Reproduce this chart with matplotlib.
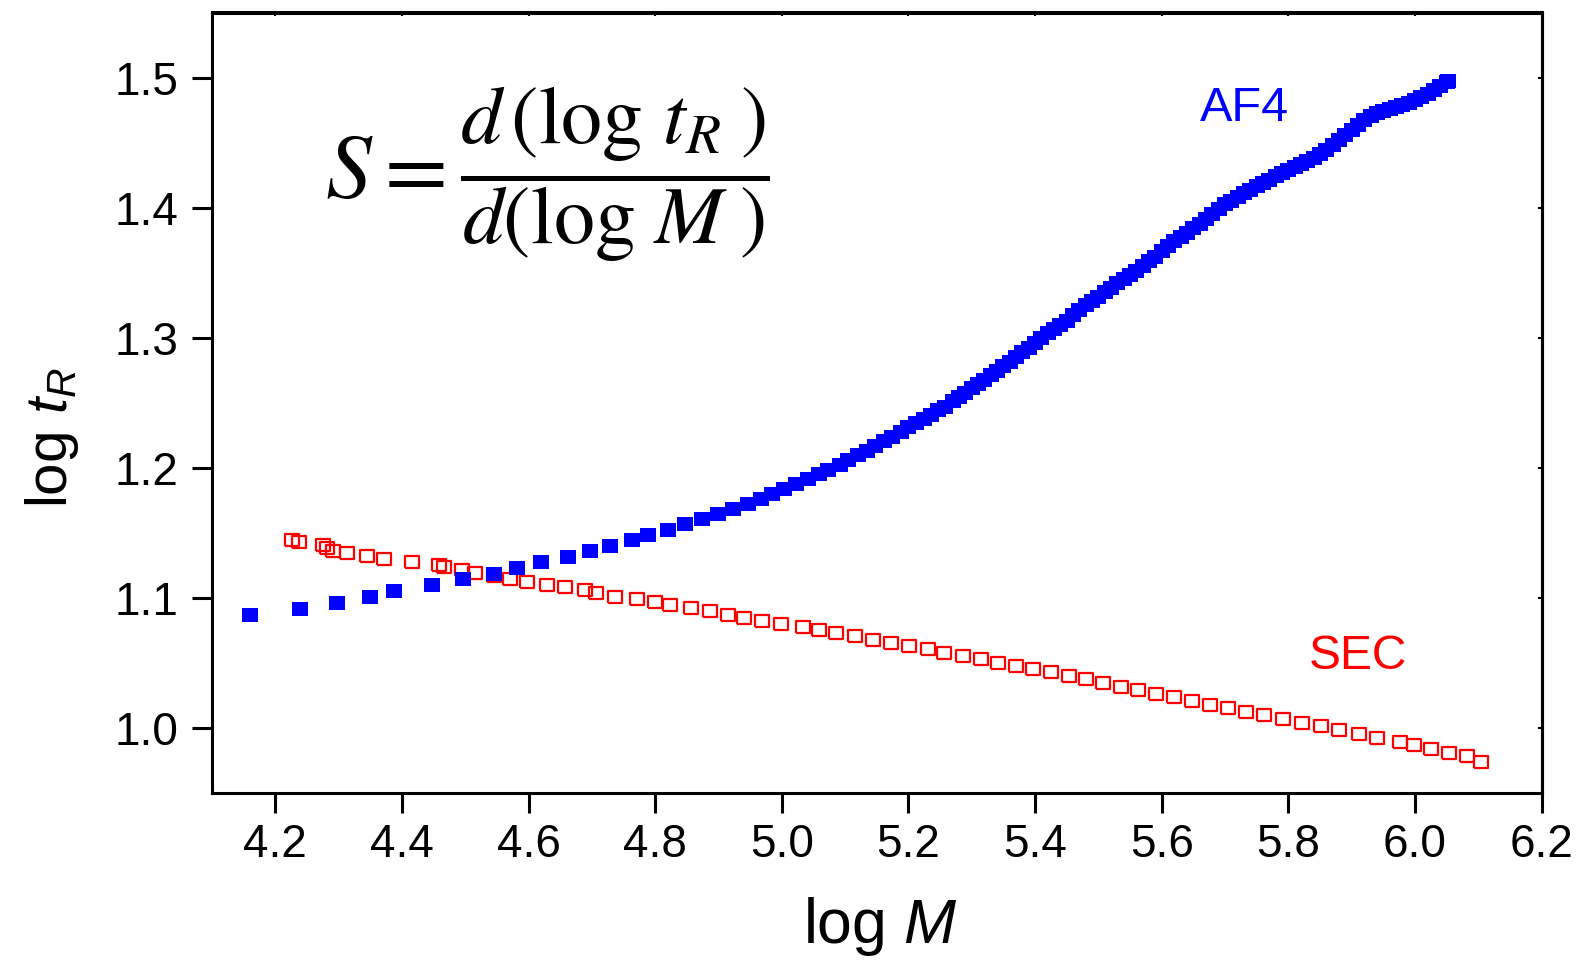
import matplotlib
matplotlib.use("Agg")
import matplotlib.pyplot as plt

# ---------------- data ----------------
af4_x = [4.1605, 4.2390, 4.2968, 4.3496, 4.3869, 4.4469, 4.4959, 4.5449, 4.5818, 4.6197,
         4.6629, 4.6976, 4.7292, 4.7635, 4.7888, 4.8209, 4.8477,
         4.8746, 4.8987, 4.9231, 4.9472, 4.9673, 4.9851, 5.0041, 5.0226, 5.0420, 5.0589,
         5.0736, 5.0915, 5.1052, 5.1199, 5.1348, 5.1479, 5.1610, 5.1743, 5.1878, 5.2000,
         5.2115, 5.2242, 5.2359, 5.2463, 5.2580,
         5.27, 5.28, 5.29, 5.30, 5.31, 5.32, 5.33, 5.34, 5.35, 5.36, 5.37, 5.38, 5.39,
         5.40, 5.41, 5.42, 5.43, 5.44, 5.45, 5.46, 5.47, 5.48, 5.49, 5.50, 5.51, 5.52,
         5.53, 5.54, 5.55, 5.56, 5.57, 5.58, 5.59, 5.60, 5.61, 5.62, 5.63, 5.64, 5.65,
         5.66, 5.67, 5.68, 5.69, 5.70, 5.71, 5.72, 5.73, 5.74, 5.75, 5.76, 5.77, 5.78,
         5.79, 5.80, 5.81, 5.82, 5.83, 5.84, 5.85, 5.86, 5.87, 5.88, 5.89, 5.90, 5.91,
         5.92, 5.93, 5.94, 5.95, 5.96, 5.97, 5.98, 5.99, 6.00, 6.01, 6.02, 6.03, 6.04,
         6.05, 6.052]
af4_y = [1.0867, 1.0913, 1.0965, 1.1008, 1.1051, 1.1098, 1.1144, 1.1188, 1.1231, 1.1274,
         1.1318, 1.1359, 1.1403, 1.1447, 1.1487, 1.1526, 1.1566,
         1.1610, 1.1646, 1.1687, 1.1726, 1.1764, 1.1802, 1.1841, 1.1879, 1.1918, 1.1956,
         1.1987, 1.2025, 1.2064, 1.2097, 1.2133, 1.2171, 1.2204, 1.2241, 1.2277, 1.2312,
         1.2343, 1.2379, 1.2410, 1.2443, 1.2471,
         1.2511, 1.2544, 1.2578, 1.2611, 1.2645, 1.2678, 1.2711, 1.2745, 1.2780, 1.2816,
         1.2852, 1.2888, 1.2925, 1.2962, 1.2999, 1.3037, 1.3071, 1.3102, 1.3133, 1.3174,
         1.3217, 1.3251, 1.3283, 1.3316, 1.3350, 1.3384, 1.3418, 1.3451, 1.3483, 1.3515,
         1.3550, 1.3587, 1.3623, 1.3664, 1.3707, 1.3743, 1.3774, 1.3805, 1.3841, 1.3878,
         1.3915, 1.3951, 1.3988, 1.4025, 1.4055, 1.4083, 1.4110, 1.4137, 1.4164, 1.4190,
         1.4216, 1.4240, 1.4263, 1.4286, 1.4309, 1.4333, 1.4358, 1.4384, 1.4414, 1.4445,
         1.4480, 1.4519, 1.4558, 1.4597, 1.4637, 1.4673, 1.4702, 1.4724, 1.4743, 1.4760,
         1.4775, 1.4790, 1.4805, 1.4826, 1.4849, 1.4872, 1.4901, 1.4935, 1.4969, 1.4975]

sec_x = [4.227, 4.238, 4.276, 4.282, 4.291, 4.313, 4.345, 4.372, 4.416, 4.458,
         4.467, 4.495, 4.516, 4.545, 4.570, 4.597, 4.629, 4.658, 4.689, 4.707,
         4.736, 4.771, 4.799, 4.824, 4.857, 4.886, 4.915, 4.941, 4.969, 4.999,
         5.033, 5.058, 5.086, 5.115, 5.144, 5.173, 5.201, 5.231, 5.257, 5.287,
         5.314, 5.342, 5.370, 5.397, 5.425, 5.453, 5.480, 5.507, 5.536, 5.563,
         5.591, 5.620, 5.648, 5.676, 5.705, 5.734, 5.762, 5.791, 5.822, 5.851,
         5.880, 5.911, 5.940, 5.977, 5.999, 6.026, 6.054, 6.083, 6.105]
sec_y = [1.1449, 1.1428, 1.1410, 1.1385, 1.1364, 1.1347, 1.1321, 1.1301, 1.1280, 1.1257,
         1.1236, 1.1216, 1.1195, 1.1170, 1.1147, 1.1126, 1.1101, 1.1082, 1.1059, 1.1036,
         1.1011, 1.0990, 1.0967, 1.0944, 1.0921, 1.0898, 1.0872, 1.0849, 1.0826, 1.0801,
         1.0780, 1.0755, 1.0729, 1.0706, 1.0680, 1.0655, 1.0632, 1.0606, 1.0578, 1.0555,
         1.0532, 1.0503, 1.0478, 1.0455, 1.0429, 1.0404, 1.0375, 1.0347, 1.0319, 1.0294,
         1.0265, 1.0240, 1.0211, 1.0180, 1.0155, 1.0127, 1.0098, 1.0071, 1.0040, 1.0014,
         0.9983, 0.9955, 0.9927, 0.9896, 0.9868, 0.9840, 0.9809, 0.9783, 0.9742]

x_ticks = [4.2, 4.4, 4.6, 4.8, 5.0, 5.2, 5.4, 5.6, 5.8, 6.0, 6.2]
x_tick_labels = ["4.2", "4.4", "4.6", "4.8", "5.0", "5.2", "5.4", "5.6", "5.8", "6.0", "6.2"]
y_ticks = [1.0, 1.1, 1.2, 1.3, 1.4, 1.5]
y_tick_labels = ["1.0", "1.1", "1.2", "1.3", "1.4", "1.5"]

# ---------------- style ----------------
W, H = 1582, 960
plt.rcParams['font.family'] = ['Liberation Sans', 'DejaVu Sans']
plt.rcParams['mathtext.fontset'] = 'custom'
plt.rcParams['mathtext.rm'] = 'Liberation Sans'
plt.rcParams['mathtext.it'] = 'Liberation Sans:italic'

fig = plt.figure(figsize=(W / 100, H / 100), dpi=100)
ax = fig.add_axes([212 / W, 1 - 793.3 / H, 1329.5 / W, 780.8 / H])

rect_b = [(-1, -0.86), (1, -0.86), (1, 0.86), (-1, 0.86), (-1, -0.86)]
rect_r = [(-1, -0.82), (1, -0.82), (1, 0.82), (-1, 0.82), (-1, -0.82)]

ax.plot(sec_x, sec_y, ls='none', marker=rect_r, ms=10.0, mfc='none',
        mec='#ff0000', mew=1.6, zorder=2)
ax.plot(af4_x, af4_y, ls='none', marker=rect_b, ms=11.5, mfc='#0000ff',
        mec='#0000ff', mew=0, zorder=3)

ax.set_xlim(4.1, 6.2)
ax.set_ylim(0.95, 1.55)
ax.set_xticks(x_ticks)
ax.set_xticklabels(x_tick_labels)
ax.set_yticks(y_ticks)
ax.set_yticklabels(y_tick_labels)
ax.tick_params(axis='both', direction='out', length=14.5, width=2.2,
               labelsize=33, colors='black')
ax.tick_params(axis='y', pad=10)
ax.tick_params(axis='x', pad=7)
for s in ax.spines.values():
    s.set_linewidth(2.2)

# tiny mirrored ticks on top and right
secx = ax.secondary_xaxis('top')
secx.set_xticks(x_ticks)
secx.tick_params(direction='in', length=3, width=1.5, labeltop=False)
secx.spines['top'].set_linewidth(2.2)
secy = ax.secondary_yaxis('right')
secy.set_yticks(y_ticks)
secy.tick_params(direction='in', length=3, width=1.5, labelright=False)
secy.spines['right'].set_linewidth(2.2)

# axis labels
fig.text(52 / W, 1 - 438 / H, r'log $t_R$', fontsize=42, rotation=90,
         ha='center', va='center')
fig.text(880 / W, 1 - 927 / H, r'log $M$', fontsize=45, ha='center', va='center')

# annotations
fig.text(1200 / W, 1 - 121 / H, 'AF4', color='#0000ff', fontsize=35,
         ha='left', va='baseline')
fig.text(1309 / W, 1 - 669 / H, 'SEC', color='#ff0000', fontsize=34.5,
         ha='left', va='baseline')
fig.text(325 / W, 1 - 198 / H, r'$S=$',
         fontsize=66, math_fontfamily='stix', ha='left', va='baseline')
fig.text(460 / W, 1 - 193 / H,
         r'$\dfrac{d\,(\log\,t_R\;)}{d\left(\log\, M\;\right)}$',
         fontsize=59, math_fontfamily='stix', ha='left', va='baseline')

fig.savefig('out.png', dpi=100)
